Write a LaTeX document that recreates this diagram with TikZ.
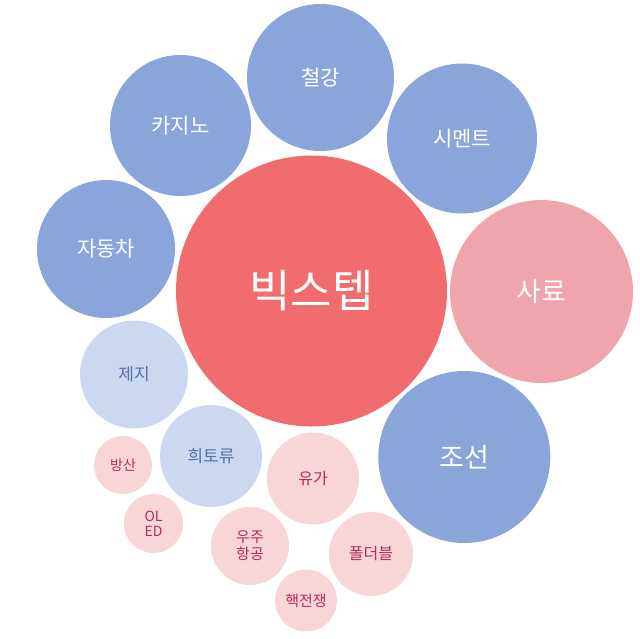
\documentclass[tikz,border=0pt]{standalone}
\usepackage{fontspec}
\setmainfont{Noto Sans CJK KR}
\definecolor{bigred}{HTML}{F16C6E}
\definecolor{deepblue}{HTML}{89A5D9}
\definecolor{softred}{HTML}{F0A5AC}
\definecolor{paleblue}{HTML}{CBD8F0}
\definecolor{palered}{HTML}{F8D5D7}
\definecolor{blueink}{HTML}{5B70A8}
\definecolor{redink}{HTML}{B02E5E}
\tikzset{
  bubble/.style={circle, inner sep=0pt, align=center, minimum size=#1},
  bigbub/.style={bubble=#1, fill=bigred, text=white},
  bluebub/.style={bubble=#1, fill=deepblue, text=white},
  pinkbub/.style={bubble=#1, fill=softred, text=white},
  palebluebub/.style={bubble=#1, fill=paleblue, text=blueink},
  paleredbub/.style={bubble=#1, fill=palered, text=redink},
}
\begin{document}
\begin{tikzpicture}[x=1pt,y=-1pt]
\useasboundingbox (0,0) rectangle (640,638);
% the big one in the middle
\node[bigbub=271pt, font=\fontsize{45}{50}\selectfont] (bigstep) at (311.5,291) {빅스텝};
% ring of sectors
\node[bluebub=147pt, font=\fontsize{21}{24}\selectfont] (steel) at (320.5,77.5) {철강};
\node[bluebub=141pt, font=\fontsize{21}{24}\selectfont] (casino) at (180.5,125.5) {카지노};
\node[bluebub=150pt, font=\fontsize{21}{24}\selectfont] (cement) at (462,138.5) {시멘트};
\node[bluebub=138pt, font=\fontsize{21}{24}\selectfont] (car) at (106,249) {자동차};
\node[pinkbub=183pt, font=\fontsize{27}{30}\selectfont] (feed) at (541.5,291.5) {사료};
\node[bluebub=172pt, font=\fontsize{27}{30}\selectfont] (ship) at (464.3,457) {조선};
\node[palebluebub=108pt, font=\fontsize{17}{20}\selectfont] (paper) at (134,374.5) {제지};
\node[palebluebub=102pt, font=\fontsize{17}{20}\selectfont] (rareearth) at (211,456) {희토류};
% small ones below
\node[paleredbub=58pt, font=\fontsize{14}{16}\selectfont] (defense) at (123,465) {방산};
\node[paleredbub=59pt, font=\fontsize{14}{15}\selectfont] (oled) at (153.5,523.5) {OL\\ED};
\node[paleredbub=92pt, font=\fontsize{16}{18}\selectfont] (oil) at (313,478.5) {유가};
\node[paleredbub=78pt, font=\fontsize{15}{17}\selectfont] (space) at (250,546) {우주\\항공};
\node[paleredbub=84pt, font=\fontsize{16}{18}\selectfont] (foldable) at (371,554) {폴더블};
\node[paleredbub=62pt, font=\fontsize{15}{17}\selectfont] (nuclear) at (306,600.5) {핵전쟁};
\end{tikzpicture}
\end{document}
